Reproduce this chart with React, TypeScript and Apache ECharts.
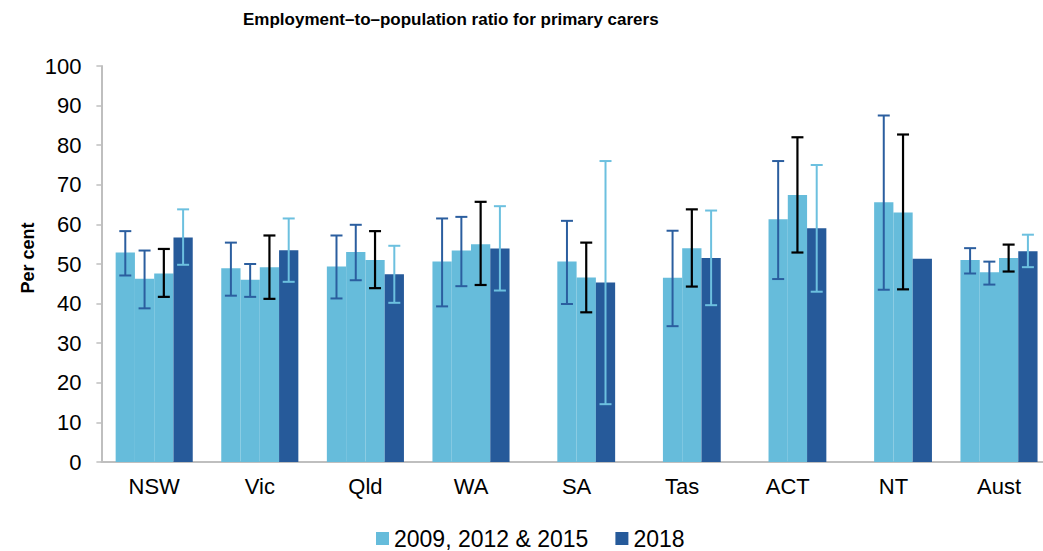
import React, { useEffect, useRef } from "react";
import * as echarts from "echarts";

const categories = ["NSW", "Vic", "Qld", "WA", "SA", "Tas", "ACT", "NT", "Aust"];

const v2009 = [52.9, 48.9, 49.4, 50.6, null, null, null, null, 51.0];
const v2012 = [46.3, 46.0, 53.0, 53.4, 50.6, 46.5, 61.3, 65.6, 47.9];
const v2015 = [47.6, 49.2, 51.0, 55.0, 46.6, 54.0, 67.4, 63.0, 51.5];
const v2018 = [56.7, 53.5, 47.4, 53.9, 45.3, 51.5, 59.0, 51.3, 53.2];

const lo2009 = [47.1, 42.0, 41.3, 39.3, null, null, null, null, 47.6];
const hi2009 = [58.3, 55.4, 57.2, 61.5, null, null, null, null, 54.0];
const lo2012 = [38.8, 41.7, 45.9, 44.4, 39.9, 34.3, 46.2, 43.5, 44.8];
const hi2012 = [53.4, 50.0, 59.9, 61.9, 60.9, 58.4, 76.0, 87.5, 50.6];
const lo2015 = [41.7, 41.2, 43.9, 44.7, 37.8, 44.3, 52.9, 43.6, 48.1];
const hi2015 = [53.8, 57.2, 58.3, 65.7, 55.4, 63.8, 82.0, 82.7, 54.9];
const lo2018 = [49.8, 45.5, 40.2, 43.3, 14.6, 39.6, 43.0, null, 49.2];
const hi2018 = [63.8, 61.5, 54.6, 64.6, 76.0, 63.5, 75.0, null, 57.4];

const yTicks = [0, 10, 20, 30, 40, 50, 60, 70, 80, 90, 100];

const LIGHT = "#66BCDB";
const DARK = "#265A9A";
const ERR_DARK = "#2B5E9F";
const ERR_BLACK = "#000000";
const ERR_LIGHT = "#6CC0DF";
const FONT = "'Liberation Sans', Arial, sans-serif";
const LIGHT_NAME = "2009, 2012 & 2015";
const DARK_NAME = "2018";
const CAT_GAP = 0.27;
const N_SLOTS = 4;

function errorSeries(lo: (number | null)[], hi: (number | null)[], slot: number, color: string, width: number) {
  const data = categories.map((_, i) =>
    lo[i] == null || hi[i] == null ? [i, "-", "-"] : [i, lo[i], hi[i]]
  );
  return {
    type: "custom",
    name: "err" + slot,
    data,
    encode: { x: 0, y: [1, 2] },
    z: 10,
    silent: true,
    renderItem: (params: any, api: any) => {
      const lo = api.value(1);
      const hi = api.value(2);
      if (isNaN(lo) || isNaN(hi)) return null;
      const idx = api.value(0);
      const pLo = api.coord([idx, lo]);
      const pHi = api.coord([idx, hi]);
      const band = api.size([1, 0])[0];
      const barW = (band * (1 - CAT_GAP)) / N_SLOTS;
      const cx = pLo[0] + (slot - (N_SLOTS - 1) / 2) * barW;
      const cap = 6;
      const style = { stroke: color, lineWidth: width };
      return {
        type: "group",
        children: [
          { type: "line", shape: { x1: cx, y1: pLo[1], x2: cx, y2: pHi[1] }, style },
          { type: "line", shape: { x1: cx - cap, y1: pHi[1], x2: cx + cap, y2: pHi[1] }, style },
          { type: "line", shape: { x1: cx - cap, y1: pLo[1], x2: cx + cap, y2: pLo[1] }, style },
        ],
      };
    },
  };
}

export default function App() {
  const ref = useRef<HTMLDivElement>(null);
  useEffect(() => {
    if (!ref.current) return;
    const chart = echarts.init(ref.current, null, { renderer: "svg" });
    const barBase = { type: "bar", barGap: "0%", barCategoryGap: "27%" };
    chart.setOption({
      animation: false,
      backgroundColor: "#ffffff",
      textStyle: { fontFamily: FONT },
      title: {
        text: "Employment\u2013to\u2013population ratio for primary carers",
        left: 243,
        top: 11,
        padding: 0,
        textStyle: { fontFamily: FONT, fontSize: 17, fontWeight: "bold", color: "#000" },
      },
      legend: {
        data: [LIGHT_NAME, DARK_NAME],
        left: 376,
        top: 527,
        padding: 0,
        itemWidth: 13,
        itemHeight: 13,
        itemGap: 27,
        icon: "rect",
        textStyle: { fontFamily: FONT, fontSize: 23, lineHeight: 22, color: "#000" },
      },
      graphic: [
        {
          type: "text",
          x: 28,
          y: 258,
          rotation: Math.PI / 2,
          style: {
            text: "Per cent",
            fontFamily: FONT,
            fontSize: 18,
            fontWeight: "bold",
            fill: "#000",
            align: "center",
            verticalAlign: "middle",
          },
        },
      ],
      grid: { left: 101.4, top: 66, width: 950.4, height: 396, containLabel: false },
      xAxis: {
        type: "category",
        data: categories,
        axisLine: { show: true, lineStyle: { color: "#BFBFBF", width: 2 } },
        axisTick: { show: false },
        axisLabel: { fontFamily: FONT, fontSize: 22, color: "#000", margin: 13 },
        splitLine: { show: false },
      },
      yAxis: {
        type: "value",
        min: yTicks[0],
        max: yTicks[yTicks.length - 1],
        interval: yTicks[1] - yTicks[0],
        axisLine: { show: true, lineStyle: { color: "#BFBFBF", width: 2 } },
        axisTick: { show: true, length: 5, inside: false, lineStyle: { color: "#BFBFBF", width: 1.5 } },
        axisLabel: { fontFamily: FONT, fontSize: 22, color: "#000", margin: 20 },
        splitLine: { show: false },
      },
      series: [
        { ...barBase, name: LIGHT_NAME, data: v2009, itemStyle: { color: LIGHT } },
        { ...barBase, name: LIGHT_NAME, data: v2012, itemStyle: { color: LIGHT } },
        { ...barBase, name: LIGHT_NAME, data: v2015, itemStyle: { color: LIGHT } },
        { ...barBase, name: DARK_NAME, data: v2018, itemStyle: { color: DARK } },
        errorSeries(lo2009, hi2009, 0, ERR_DARK, 2),
        errorSeries(lo2012, hi2012, 1, ERR_DARK, 2),
        errorSeries(lo2015, hi2015, 2, ERR_BLACK, 2.2),
        errorSeries(lo2018, hi2018, 3, ERR_LIGHT, 2),
      ],
    });
    return () => chart.dispose();
  }, []);
  return (
    <div
      style={{
        position: "fixed",
        left: 0,
        top: 0,
        width: 1043,
        height: 551,
        overflow: "hidden",
        background: "#fff",
      }}
    >
      <div ref={ref} style={{ width: 1060, height: 551 }} />
    </div>
  );
}
